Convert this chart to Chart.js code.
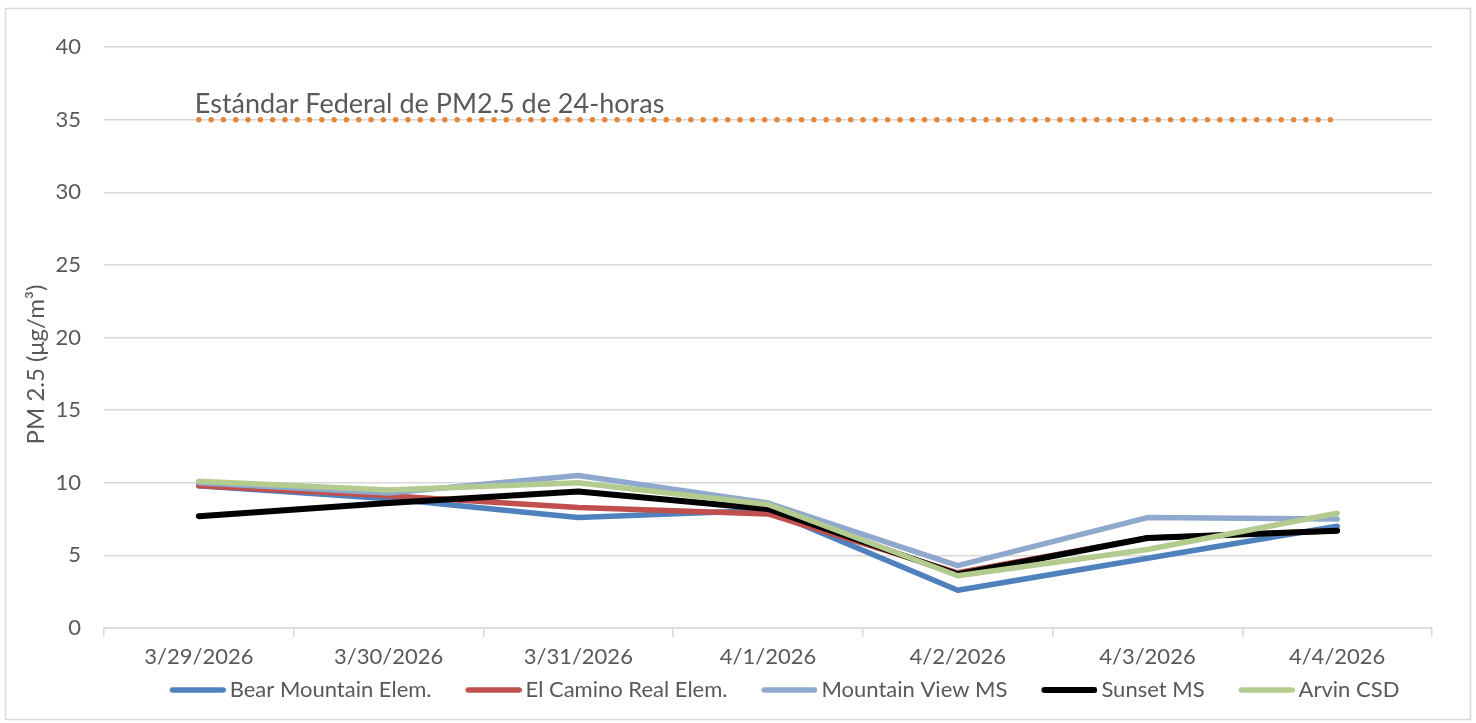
<!DOCTYPE html>
<html><head><meta charset="utf-8">
<script src="https://cdn.jsdelivr.net/npm/chart.js@4/dist/chart.umd.min.js"></script>
<style>html,body{margin:0;padding:0;background:#fff;}canvas{display:block;}</style>
</head><body>
<canvas id="c" width="1476" height="723"></canvas>
<script>
const categories = ['3/29/2026','3/30/2026','3/31/2026','4/1/2026','4/2/2026','4/3/2026','4/4/2026'];
const bearMountain = [9.8, 8.9, 7.6, 8.1, 2.6, 4.8, 7.0];
const elCamino     = [9.8, 9.1, 8.3, 7.85, 3.8, 6.2, 6.7];
const mountainView = [10.0, 9.3, 10.5, 8.6, 4.3, 7.6, 7.5];
const sunset       = [7.7, 8.6, 9.4, 8.2, 3.7, 6.2, 6.7];
const arvin        = [10.1, 9.5, 10.0, 8.5, 3.6, 5.4, 7.9];
const federalStandard = [35, 35, 35, 35, 35, 35, 35];
const yTicks = [0, 5, 10, 15, 20, 25, 30, 35, 40];
const standardLabel = 'Estándar Federal de PM2.5 de 24-horas';
const yTitle = 'PM 2.5 (μg/m³)';

const FONT = 'Lato';
const TXT = '#595959';
const GRID = '#D9D9D9';

function legendImg(color, lw) {
  const c = document.createElement('canvas'); c.width = 88; c.height = 12;
  const g = c.getContext('2d'); g.strokeStyle = color; g.lineWidth = lw; g.lineCap = 'round';
  g.beginPath(); g.moveTo(32 + lw / 2, 6); g.lineTo(88 - lw / 2, 6); g.stroke();
  return c;
}

function series(label, data, color, width, order) {
  return { label, data, borderColor: color, backgroundColor: color, borderWidth: width,
    pointRadius: 0, pointHoverRadius: 0, tension: 0, borderCapStyle: 'round', borderJoinStyle: 'round',
    pointStyle: legendImg(color, width), order, fill: false };
}

const borderPlugin = {
  id: 'outerBorder',
  beforeDraw(chart) {
    const ctx = chart.ctx; ctx.save();
    ctx.strokeStyle = GRID; ctx.lineWidth = 1.5;
    ctx.strokeRect(5.5, 8.5, 1465, 711);
    ctx.restore();
  }
};
const labelPlugin = {
  id: 'stdLabel',
  afterDatasetsDraw(chart) {
    const x = chart.scales.x.getPixelForValue(0) - 4;
    const y = chart.scales.y.getPixelForValue(35) - 7;
    const ctx = chart.ctx; ctx.save();
    ctx.font = '27px ' + FONT; ctx.fillStyle = TXT; ctx.textAlign = 'left'; ctx.textBaseline = 'alphabetic';
    ctx.fillText(standardLabel, x, y);
    ctx.restore();
  }
};
const legendShift = {
  id: 'legendShift',
  afterLayout(chart) { if (chart.legend) { chart.legend.left += 56; chart.legend.right += 56; } }
};

new Chart(document.getElementById('c'), {
  type: 'line',
  data: {
    labels: categories,
    datasets: [
      series('Bear Mountain Elem.', bearMountain, '#4F81BD', 5.5, 5),
      series('El Camino Real Elem.', elCamino, '#C0504D', 5.5, 4),
      series('Mountain View MS', mountainView, '#8EA8CE', 5.5, 3),
      series('Sunset MS', sunset, '#000000', 6, 2),
      series('Arvin CSD', arvin, '#B3CB8E', 5.5, 1),
      { label: standardLabel, data: federalStandard, borderColor: '#E2883D', borderWidth: 5.5,
        borderDash: [0, 12.3], borderCapStyle: 'round', pointRadius: 0, tension: 0, order: 6, fill: false }
    ]
  },
  options: {
    responsive: false, animation: false, devicePixelRatio: 1,
    layout: { padding: { left: 0, right: 44, top: 47, bottom: 12 } },
    plugins: {
      tooltip: { enabled: false },
      legend: {
        position: 'bottom',
        labels: {
          usePointStyle: true, pointStyleWidth: 74, padding: 9, color: TXT,
          font: { family: FONT, size: 22 },
          filter: (item) => item.text !== standardLabel,
          sort: (a, b) => a.datasetIndex - b.datasetIndex
        }
      }
    },
    scales: {
      x: {
        offset: true,
        grid: { offset: true, drawOnChartArea: false, drawTicks: true, tickLength: 9, color: GRID, lineWidth: 1.5 },
        border: { display: true, color: GRID, width: 1.5 },
        ticks: { color: TXT, font: { family: FONT, size: 22 }, padding: 7, maxRotation: 0, autoSkip: false },
        afterFit(s) { s.height = 42; }
      },
      y: {
        min: 0, max: 40,
        afterBuildTicks(s) { s.ticks = yTicks.map(v => ({ value: v })); },
        grid: { color: GRID, lineWidth: 1.5, drawTicks: false },
        border: { display: false },
        ticks: { color: TXT, font: { family: FONT, size: 22 }, padding: 23 },
        title: { display: true, text: yTitle + '\u2003\u2003\u2003', color: TXT, font: { family: FONT, size: 24 }, padding: { top: 22, bottom: 0 } },
        afterFit(s) { s.width = 104; }
      }
    }
  },
  plugins: [borderPlugin, labelPlugin, legendShift]
});
</script>
</body></html>
